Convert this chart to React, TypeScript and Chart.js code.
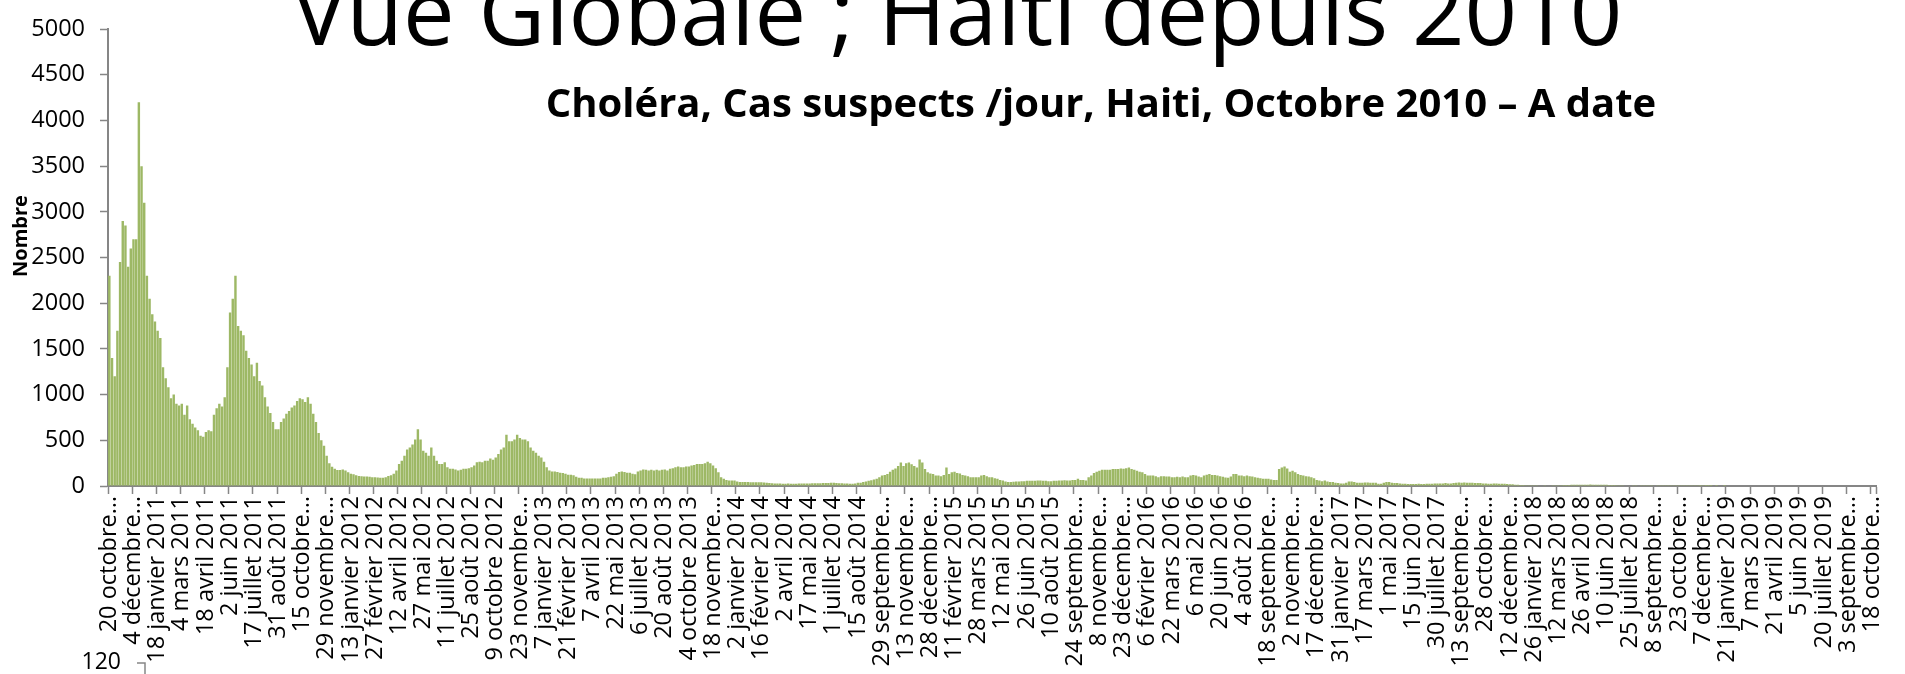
import React, { useEffect, useRef } from "react";
import { Chart, registerables } from "chart.js";

Chart.register(...registerables);

// Tick labels (one every 45 days = every 9 bins of 5 days), as displayed (truncated ones keep the ellipsis)
const tickLabels: string[] = [
  "20 octobre…", "4 décembre…", "18 janvier 2011", "4 mars 2011", "18 avril 2011", "2 juin 2011", "17 juillet 2011", "31 août 2011", "15 octobre…", "29 novembre…",
  "13 janvier 2012", "27 février 2012", "12 avril 2012", "27 mai 2012", "11 juillet 2012", "25 août 2012", "9 octobre 2012", "23 novembre…",
  "7 janvier 2013", "21 février 2013", "7 avril 2013", "22 mai 2013", "6 juillet 2013", "20 août 2013", "4 octobre 2013", "18 novembre…",
  "2 janvier 2014", "16 février 2014", "2 avril 2014", "17 mai 2014", "1 juillet 2014", "15 août 2014", "29 septembre…", "13 novembre…", "28 décembre…",
  "11 février 2015", "28 mars 2015", "12 mai 2015", "26 juin 2015", "10 août 2015", "24 septembre…", "8 novembre…", "23 décembre…",
  "6 février 2016", "22 mars 2016", "6 mai 2016", "20 juin 2016", "4 août 2016", "18 septembre…", "2 novembre…", "17 décembre…",
  "31 janvier 2017", "17 mars 2017", "1 mai 2017", "15 juin 2017", "30 juillet 2017", "13 septembre…", "28 octobre…", "12 décembre…",
  "26 janvier 2018", "12 mars 2018", "26 avril 2018", "10 juin 2018", "25 juillet 2018", "8 septembre…", "23 octobre…", "7 décembre…",
  "21 janvier 2019", "7 mars 2019", "21 avril 2019", "5 juin 2019", "20 juillet 2019", "3 septembre…", "18 octobre…",
];

// Suspected cases per day, one value per 5-day period
const casOct2010: number[] = [
  2300, 1400, 1200, 1700, 2450, 2900, 2850, 2400, 2600, 2700,
  2700, 4200, 3500, 3100, 2300, 2050, 1880, 1800, 1700, 1620,
  1300, 1180, 1080, 960, 1000, 900, 880, 900, 780, 880,
  730, 680, 640, 610, 550, 540, 590, 610, 600, 780,
  850, 900, 870, 970, 1300, 1900, 2050, 2300, 1750, 1700,
  1650, 1480, 1400, 1330, 1200, 1350, 1150, 1100, 970, 870,
  800, 700, 620, 620, 700, 740, 790, 820, 860, 880,
  930, 960, 950,
];
const casOct2011: number[] = [
  920, 970, 900, 790, 700, 580, 500, 440, 330, 250,
  210, 190, 175, 175, 180, 170, 150, 135, 128, 117,
  110, 107, 103, 103, 100, 96, 96, 92, 89, 89,
  96, 110, 117, 135, 170, 240, 277, 330, 400, 420,
  455, 510, 620, 510, 385, 365, 330, 420, 330, 277,
  240, 240, 260, 205, 188, 188, 180, 170, 177, 188,
  188, 195, 205, 224, 260, 266, 260, 277, 277, 300,
  288, 312, 350,
];
const casOct2012: number[] = [
  400, 420, 560, 490, 490, 510, 560, 525, 510, 510,
  490, 420, 385, 365, 330, 312, 266, 205, 170, 160,
  160, 153, 145, 142, 135, 124, 124, 117, 100, 89,
  89, 82, 82, 82, 82, 82, 82, 82, 89, 89,
  96, 100, 107, 135, 153, 160, 153, 145, 145, 135,
  128, 160, 170, 180, 177, 170, 177, 170, 177, 170,
  177, 180, 170, 188, 195, 205, 213, 205, 205, 213,
  213, 224, 230,
];
const casOct2013: number[] = [
  240, 240, 240, 250, 266, 250, 224, 195, 150, 96,
  78, 67, 60, 60, 60, 50, 45, 44, 43, 43,
  42, 42, 41, 40, 40, 38, 36, 32, 30, 28,
  27, 26, 25, 25, 26, 25, 24, 25, 26, 27,
  28, 28, 28, 29, 30, 30, 31, 32, 33, 32,
  35, 36, 33, 30, 29, 28, 27, 25, 25, 28,
  36, 36, 43, 50, 57, 64, 71, 78, 96, 114,
  121, 131, 156,
];
const casOct2014: number[] = [
  178, 192, 220, 256, 220, 249, 256, 238, 220, 202,
  290, 256, 185, 150, 138, 131, 114, 114, 107, 121,
  202, 131, 150, 156, 142, 138, 121, 114, 107, 96,
  96, 96, 96, 114, 121, 107, 96, 96, 85, 78,
  67, 60, 50, 43, 43, 46, 50, 50, 53, 53,
  57, 57, 57, 57, 60, 60, 57, 57, 53, 53,
  57, 57, 60, 60, 64, 60, 60, 67, 67, 78,
  67, 67, 60,
];
const casOct2015: number[] = [
  96, 114, 142, 156, 167, 178, 178, 178, 178, 185,
  185, 185, 192, 188, 195, 202, 185, 178, 167, 156,
  150, 131, 114, 114, 114, 107, 96, 107, 107, 103,
  103, 96, 96, 100, 96, 103, 96, 96, 114, 121,
  114, 103, 96, 114, 124, 131, 121, 121, 114, 107,
  100, 92, 89, 103, 131, 131, 114, 114, 107, 114,
  107, 103, 96, 89, 85, 78, 78, 78, 71, 67,
  67, 185, 202,
];
const casOct2016: number[] = [
  213, 192, 156, 167, 150, 131, 121, 114, 107, 103,
  96, 85, 67, 60, 53, 60, 50, 43, 43, 36,
  32, 28, 28, 36, 50, 50, 43, 36, 36, 36,
  39, 39, 36, 36, 36, 25, 25, 36, 43, 43,
  36, 32, 32, 28, 25, 25, 21, 21, 21, 21,
  25, 21, 21, 25, 25, 25, 28, 28, 28, 28,
  32, 28, 28, 32, 36, 39, 36, 39, 36, 36,
  36, 32, 32,
];
const casOct2017: number[] = [
  32, 28, 28, 25, 25, 28, 28, 25, 25, 25,
  21, 18, 18, 14, 14, 11, 11, 9, 8, 8,
  7, 7, 6, 6, 7, 6, 6, 7, 8, 8,
  9, 10, 11, 12, 13, 14, 14, 15, 13, 14,
  15, 16, 14, 13, 14, 15, 14, 13, 12, 11,
  10, 9, 8, 7, 6, 5, 5, 4, 4, 5,
  4, 4, 3, 4, 4, 5, 4, 3, 3, 4,
  3, 3, 3,
];
const casOct2018: number[] = [
  3, 2, 3, 2, 2, 3, 2, 2, 2, 1,
  2, 1, 1, 1, 0, 1, 0, 0, 1, 0,
  0, 0, 0, 0, 0, 0, 0, 0, 0, 0,
  0, 0, 0, 0, 0, 0, 0, 0, 0, 0,
  0, 0, 0, 0, 0, 0, 0, 0, 0, 0,
  0, 0, 0, 0, 0, 0, 0, 0, 0, 0,
  0, 0, 0, 0, 0, 0, 0, 0, 0, 0,
  0, 0, 0, 0, 0,
];

const yTickValues: number[] = [0, 500, 1000, 1500, 2000, 2500, 3000, 3500, 4000, 4500, 5000];

const TITRE = "Vue Globale ; Haiti depuis 2010";
const SOUS_TITRE = "Choléra, Cas suspects /jour, Haiti, Octobre 2010 – A date";
const TITRE_AXE_Y = "Nombre";
const TICK_GRAPHE_SUIVANT = "120";

const BINS_PAR_ETIQUETTE = 9;

export default function App() {
  const canvasRef = useRef<HTMLCanvasElement>(null);

  useEffect(() => {
    if (!canvasRef.current) return;
    const cas = [
      ...casOct2010, ...casOct2011, ...casOct2012, ...casOct2013, ...casOct2014,
      ...casOct2015, ...casOct2016, ...casOct2017, ...casOct2018,
    ];
    const labels = cas.map((_, i) =>
      i % BINS_PAR_ETIQUETTE === 0 ? tickLabels[i / BINS_PAR_ETIQUETTE] ?? "" : ""
    );
    const axisGrey = "#868686";
    const fontFamily = '"Open Sans", "Noto Sans", sans-serif';

    const textPlugin = {
      id: "slideTexts",
      afterDraw(chart: any) {
        const ctx = chart.ctx as CanvasRenderingContext2D;
        ctx.save();
        ctx.fillStyle = "#000000";
        // big slide title, cut at the top
        ctx.textAlign = "center";
        ctx.textBaseline = "alphabetic";
        ctx.font = `92px ${fontFamily}`;
        ctx.fillText(TITRE, 957, 45, 1343);
        // subtitle
        ctx.textBaseline = "middle";
        ctx.font = `bold 40px ${fontFamily}`;
        ctx.fillText(SOUS_TITRE, 1101, 106, 1115);
        // y axis title
        ctx.save();
        ctx.translate(21, 236);
        ctx.rotate(-Math.PI / 2);
        ctx.font = `bold 20px ${fontFamily}`;
        ctx.fillText(TITRE_AXE_Y, 0, 0);
        ctx.restore();
        // top of the next chart on the slide
        ctx.textAlign = "right";
        ctx.font = `23px ${fontFamily}`;
        ctx.fillText(TICK_GRAPHE_SUIVANT, 121, 662);
        ctx.strokeStyle = axisGrey;
        ctx.lineWidth = 1.5;
        ctx.beginPath();
        ctx.moveTo(137, 663);
        ctx.lineTo(145, 663);
        ctx.lineTo(145, 674);
        ctx.stroke();
        ctx.restore();
      },
    };

    const chart = new Chart(canvasRef.current, {
      type: "bar",
      data: {
        labels,
        datasets: [
          {
            data: cas,
            backgroundColor: "#9DB865",
            borderWidth: 0,
            barPercentage: 0.9,
            categoryPercentage: 1,
          },
        ],
      },
      options: {
        animation: false,
        responsive: false,
        maintainAspectRatio: false,
        layout: { padding: { top: 16, right: 12, left: 0, bottom: 0 } },
        plugins: {
          legend: { display: false },
          tooltip: { enabled: false },
          title: { display: false },
        },
        scales: {
          x: {
            grid: {
              display: true,
              drawOnChartArea: false,
              drawTicks: true,
              tickLength: 8,
              tickWidth: 1.5,
              offset: true,
              tickColor: (c: any) =>
                c.index === undefined || c.index % BINS_PAR_ETIQUETTE === 0 ? axisGrey : "rgba(0,0,0,0)",
            },
            border: { display: true, color: axisGrey, width: 2 },
            ticks: {
              autoSkip: false,
              minRotation: 90,
              maxRotation: 90,
              padding: 2,
              color: "#000000",
              font: { family: fontFamily, size: 23.5 },
            },
            afterFit: (s: any) => {
              s.height = 188;
            },
          },
          y: {
            min: 0,
            max: 5000,
            afterBuildTicks: (s: any) => {
              s.ticks = yTickValues.map((v) => ({ value: v }));
            },
            grid: {
              drawOnChartArea: false,
              drawTicks: true,
              tickLength: 8,
              tickWidth: 1.5,
              tickColor: axisGrey,
            },
            border: { display: true, color: axisGrey, width: 2 },
            ticks: {
              padding: 15,
              color: "#000000",
              font: { family: fontFamily, size: 23.5 },
              callback: (v: any) => String(v),
            },
            afterFit: (s: any) => {
              s.width = 108;
            },
          },
        },
      },
      plugins: [textPlugin],
    });

    return () => chart.destroy();
  }, []);

  return (
    <div style={{ position: "absolute", left: 0, top: 0, width: 1905, height: 674, background: "#ffffff" }}>
      <canvas ref={canvasRef} width={1905} height={674} style={{ display: "block" }} />
    </div>
  );
}
